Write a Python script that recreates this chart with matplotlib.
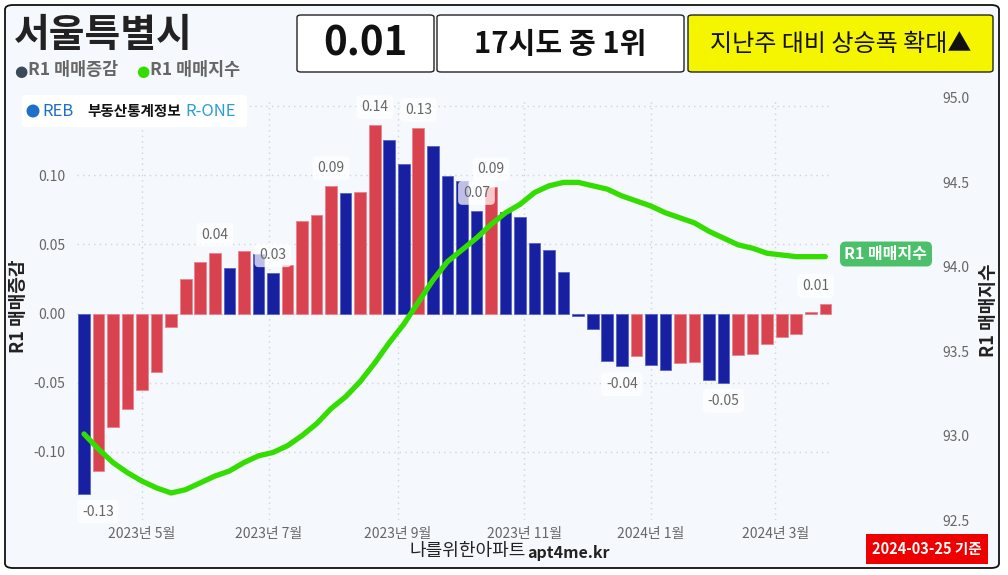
import matplotlib
matplotlib.use("Agg")
import matplotlib.pyplot as plt
from matplotlib.patches import FancyBboxPatch, Ellipse
import pandas as pd

plt.rcParams['font.family'] = ['Noto Sans CJK KR', 'DejaVu Sans']

# ---------------- data ----------------
region = "서울특별시"
rank_text = "17시도 중 1위"
trend_text = "지난주 대비 상승폭 확대▲"
base_date = "2024-03-25"
week_dates = pd.date_range("2023-04-03", "2024-03-25", freq="7D")

change = [-0.130, -0.114, -0.082, -0.069, -0.055, -0.042, -0.010, 0.025, 0.037, 0.044,
          0.033, 0.045, 0.043, 0.029, 0.035, 0.067, 0.071, 0.092, 0.087, 0.088,
          0.136, 0.125, 0.108, 0.134, 0.121, 0.099, 0.096, 0.074, 0.091, 0.073,
          0.070, 0.051, 0.046, 0.030, -0.002, -0.011, -0.034, -0.038, -0.031, -0.037,
          -0.041, -0.036, -0.035, -0.048, -0.050, -0.030, -0.029, -0.022, -0.017, -0.015,
          0.001, 0.007]

index = [93.01, 92.92, 92.84, 92.78, 92.73, 92.69, 92.66, 92.68, 92.72, 92.76,
         92.79, 92.84, 92.88, 92.90, 92.94, 93.00, 93.07, 93.16, 93.23, 93.32,
         93.43, 93.55, 93.66, 93.79, 93.92, 94.03, 94.10, 94.17, 94.25, 94.32,
         94.37, 94.44, 94.48, 94.50, 94.50, 94.48, 94.46, 94.42, 94.39, 94.36,
         94.32, 94.29, 94.26, 94.21, 94.17, 94.13, 94.11, 94.08, 94.07, 94.06,
         94.06, 94.06]

label_idx = [0, 9, 13, 17, 20, 23, 27, 28, 37, 44, 51]
month_ticks = ["2023-05-01", "2023-07-01", "2023-09-01", "2023-11-01", "2024-01-01", "2024-03-01"]
left_ticks = [-0.10, -0.05, 0.00, 0.05, 0.10, 0.15]
right_ticks = [92.5, 93.0, 93.5, 94.0, 94.5, 95.0]

# ---------------- style ----------------
W, H = 1008, 575
RED = "#D9434F"
BLUE = "#1620A0"
GREEN = "#33DD00"
BG = "#F5F8FC"
GRAY = "#666666"

fig = plt.figure(figsize=(W / 100, H / 100), dpi=100)
fig.patch.set_facecolor("white")


def fx(x):
    return x / W


def fy(y):
    return 1 - y / H


# outer frame
frame = FancyBboxPatch((fx(5), fy(568)), fx(994), 563 / H,
                       boxstyle="round,pad=0,rounding_size=0.008",
                       transform=fig.transFigure, facecolor=BG, edgecolor="#111111",
                       linewidth=1.3, zorder=-5)
fig.patches.append(frame)

# axes
ax_l, ax_r, ax_t, ax_b = 76.7, 832.6, 98, 520
ax = fig.add_axes([fx(ax_l), fy(ax_b), (ax_r - ax_l) / W, (ax_b - ax_t) / H])
ax.set_zorder(1)
ax.set_facecolor("none")
for s in ax.spines.values():
    s.set_visible(False)

colors = [BLUE] + [RED if change[i] > change[i - 1] else BLUE for i in range(1, len(change))]
edges = ["#5A63C8" if c == BLUE else "#E8838B" for c in colors]
ax.bar(week_dates, change, width=7 * 0.8, color=colors, edgecolor=edges, linewidth=0.6, zorder=2)
ax.set_xlim(week_dates[0] - pd.Timedelta(days=3.5), week_dates[-1] + pd.Timedelta(days=3.5))
ax.set_ylim(-0.1491, 0.1556)
ax.set_yticks(left_ticks)
# the top tick label sits under the logo box in the original, so it is left blank
ax.set_yticklabels([f"{t:.2f}" if t < 0.149 else "" for t in left_ticks])
mt = pd.to_datetime(month_ticks)
ax.set_xticks(mt)
ax.set_xticklabels([f"{d.year}년 {d.month}월" for d in mt])
ax.tick_params(axis="both", length=0, labelsize=10, labelcolor=GRAY)
ax.tick_params(axis="x", pad=5)
ax.tick_params(axis="y", pad=8)
ax.grid(True, color="#CDD5DE", linestyle=(0, (1, 3)), linewidth=1, zorder=0)

# value labels
for i in label_idx:
    v = change[i]
    xoff = 0
    if i == 0:
        xoff = 10
    if i == len(change) - 1:
        xoff = -7
    yoff = 13 if v >= 0 else -13
    ax.annotate(f"{v:.2f}", (week_dates[i], v), xytext=(xoff, yoff), textcoords="offset points",
                ha="center", va="center", fontsize=10, color=GRAY, zorder=5,
                bbox=dict(boxstyle="round,pad=0.35,rounding_size=0.3", fc="white", ec="none", alpha=0.72))

# index line
ax2 = ax.twinx()
for s in ax2.spines.values():
    s.set_visible(False)
ax2.plot(week_dates, index, color=GREEN, linewidth=3.8, solid_capstyle="round",
         solid_joinstyle="round", zorder=3)
ax2.set_ylim(92.5, 95.0)
ax2.set_yticks(right_ticks)
ax2.set_yticklabels([f"{t:.1f}" for t in right_ticks])
ax2.tick_params(axis="y", length=0, labelsize=10, labelcolor=GRAY, pad=79)

# end-of-line label
fig.text(fx(886), fy(254), "R1 매매지수", ha="center", va="center", fontsize=11.5,
         fontweight="bold", color="white", zorder=6,
         bbox=dict(boxstyle="round,pad=0.28,rounding_size=0.35", fc="#4CBF6A", ec="none"))

# axis titles
fig.text(fx(19), fy(306), "R1 매매증감", rotation=90, ha="center", va="center",
         fontsize=13, fontweight="bold", color="#222222")
fig.text(fx(988), fy(310), "R1 매매지수", rotation=90, ha="center", va="center",
         fontsize=13, fontweight="bold", color="#222222")

# x title
fig.text(fx(468), fy(551), "나를위한아파트", ha="center", va="center", fontsize=13, color="#222222")
fig.text(fx(568), fy(553), "apt4me.kr", ha="center", va="center", fontsize=11.5,
         fontweight="bold", color="#222222")

# header
fig.text(fx(14), fy(36), region, ha="left", va="center", fontsize=28, fontweight="bold", color="#222222")
fig.text(fx(14), fy(71), "●", ha="left", va="center", fontsize=11, color="#3B4A5A", family="DejaVu Sans")
fig.text(fx(28), fy(70), "R1 매매증감", ha="left", va="center", fontsize=12.5, fontweight="bold", color=GRAY)
fig.text(fx(136), fy(71), "●", ha="left", va="center", fontsize=11, color=GREEN, family="DejaVu Sans")
fig.text(fx(150), fy(70), "R1 매매지수", ha="left", va="center", fontsize=12.5, fontweight="bold", color=GRAY)


def box(x0, y0, x1, y1, fc, ec="#222222"):
    p = FancyBboxPatch((fx(x0), fy(y1)), (x1 - x0) / W, (y1 - y0) / H,
                       boxstyle="round,pad=0,rounding_size=0.004", transform=fig.transFigure,
                       facecolor=fc, edgecolor=ec, linewidth=1.0, zorder=1)
    fig.patches.append(p)


box(297, 15, 434, 72, "white")
fig.text(fx(365.5), fy(44), f"{change[-1]:.2f}", ha="center", va="center", fontsize=29,
         fontweight="bold", color="#111111")
box(437, 15, 684, 72, "white")
fig.text(fx(560.5), fy(44), rank_text, ha="center", va="center", fontsize=21,
         fontweight="bold", color="#111111")
box(688, 15, 993, 72, "#F5F500")
fig.text(fx(840.5), fy(44), trend_text, ha="center", va="center", fontsize=17.3, color="#111111")

# logo
logo = FancyBboxPatch((fx(22), fy(127)), 225 / W, 32 / H, boxstyle="round,pad=0,rounding_size=0.004",
                      transform=fig.transFigure, facecolor="white", edgecolor="none", zorder=4)
fig.patches.append(logo)
fig.patches.append(Ellipse((fx(33), fy(111)), 13 / W, 13 / H, transform=fig.transFigure,
                           facecolor="#1E6FC8", edgecolor="none", zorder=5))
fig.text(fx(42), fy(111), "REB", ha="left", va="center", fontsize=12, color="#1E6FC8", zorder=6)
fig.text(fx(87), fy(111), "부동산통계정보", ha="left", va="center", fontsize=10.5,
         fontweight="bold", color="#111111", zorder=6)
fig.text(fx(185), fy(111), "R-ONE", ha="left", va="center", fontsize=12, color="#2A9FD6", zorder=6)

# base date box
fig.text(fx(927), fy(549), f"{base_date} 기준", ha="center", va="center", fontsize=10.5,
         fontweight="bold", color="white",
         bbox=dict(boxstyle="square,pad=0.45", fc="#EE0000", ec="none"))

fig.savefig("out.png", dpi=100, facecolor=fig.get_facecolor())
